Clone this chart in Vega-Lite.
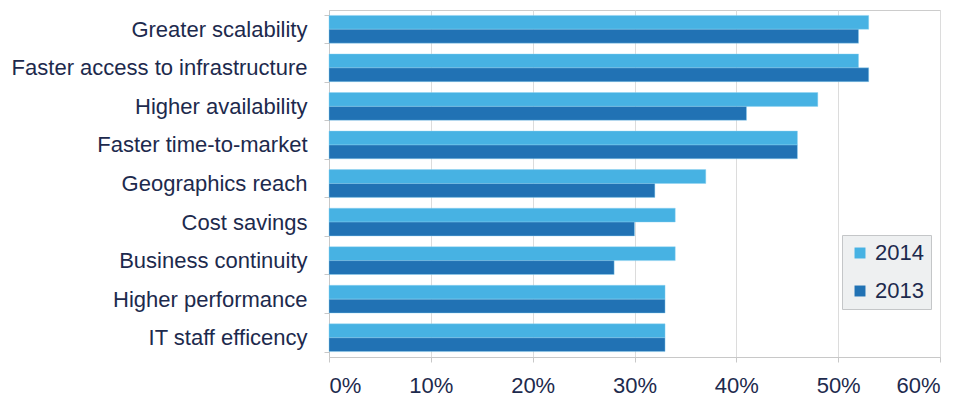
{
  "$schema": "https://vega.github.io/schema/vega-lite/v6.json",
  "autosize": {"type": "none"},
  "padding": {"left": 329, "top": 10, "right": 23, "bottom": 44},
  "width": 611,
  "height": 347,
  "background": "white",
  "data": {
    "values": [
      {"category": "Greater scalability", "year": "2014", "value": 53},
      {"category": "Greater scalability", "year": "2013", "value": 52},
      {"category": "Faster access to infrastructure", "year": "2014", "value": 52},
      {"category": "Faster access to infrastructure", "year": "2013", "value": 53},
      {"category": "Higher availability", "year": "2014", "value": 48},
      {"category": "Higher availability", "year": "2013", "value": 41},
      {"category": "Faster time-to-market", "year": "2014", "value": 46},
      {"category": "Faster time-to-market", "year": "2013", "value": 46},
      {"category": "Geographics reach", "year": "2014", "value": 37},
      {"category": "Geographics reach", "year": "2013", "value": 32},
      {"category": "Cost savings", "year": "2014", "value": 34},
      {"category": "Cost savings", "year": "2013", "value": 30},
      {"category": "Business continuity", "year": "2014", "value": 34},
      {"category": "Business continuity", "year": "2013", "value": 28},
      {"category": "Higher performance", "year": "2014", "value": 33},
      {"category": "Higher performance", "year": "2013", "value": 33},
      {"category": "IT staff efficency", "year": "2014", "value": 33},
      {"category": "IT staff efficency", "year": "2013", "value": 33}
    ]
  },
  "mark": {"type": "bar", "stroke": "#8fd3f2", "strokeWidth": 0.6, "strokeOpacity": 0.7},
  "encoding": {
    "y": {
      "field": "category",
      "type": "nominal",
      "sort": null,
      "scale": {"paddingInner": 0.28, "paddingOuter": 0.14},
      "axis": {
        "title": null,
        "tickBand": "extent",
        "labelFont": "Liberation Sans",
        "labelFontSize": 22,
        "labelColor": "#1d2a4d",
        "labelPadding": 17,
        "labelLimit": 400,
        "tickSize": 5,
        "tickColor": "#c8c8c8",
        "domainColor": "#c8c8c8",
        "grid": false
      }
    },
    "yOffset": {
      "field": "year",
      "type": "nominal",
      "sort": ["2014", "2013"],
      "scale": {"paddingInner": 0, "paddingOuter": 0}
    },
    "x": {
      "field": "value",
      "type": "quantitative",
      "scale": {"domain": [0, 60], "nice": false},
      "axis": {
        "title": null,
        "values": [0, 10, 20, 30, 40, 50, 60],
        "labelExpr": "datum.value + '%'",
        "labelFont": "Liberation Sans",
        "labelFontSize": 22,
        "labelColor": "#1d2a4d",
        "labelPadding": 13,
        "tickSize": 5,
        "tickColor": "#c8c8c8",
        "domainColor": "#c8c8c8",
        "grid": true,
        "gridColor": "#dcdcdc"
      }
    },
    "color": {
      "field": "year",
      "type": "nominal",
      "sort": ["2014", "2013"],
      "scale": {"domain": ["2014", "2013"], "range": ["#47b2e3", "#2172b4"]},
      "legend": {
        "title": null,
        "orient": "none",
        "legendX": 513,
        "legendY": 225,
        "fillColor": "#eef0f1",
        "strokeColor": "#c4c6c8",
        "padding": 7,
        "symbolType": "square",
        "symbolSize": 120,
        "symbolStrokeWidth": 0,
        "labelFont": "Liberation Sans",
        "labelFontSize": 22,
        "labelColor": "#1d2a4d",
        "labelOffset": 4,
        "rowPadding": 16
      }
    }
  },
  "config": {
    "view": {"stroke": "#cccccc"}
  }
}
